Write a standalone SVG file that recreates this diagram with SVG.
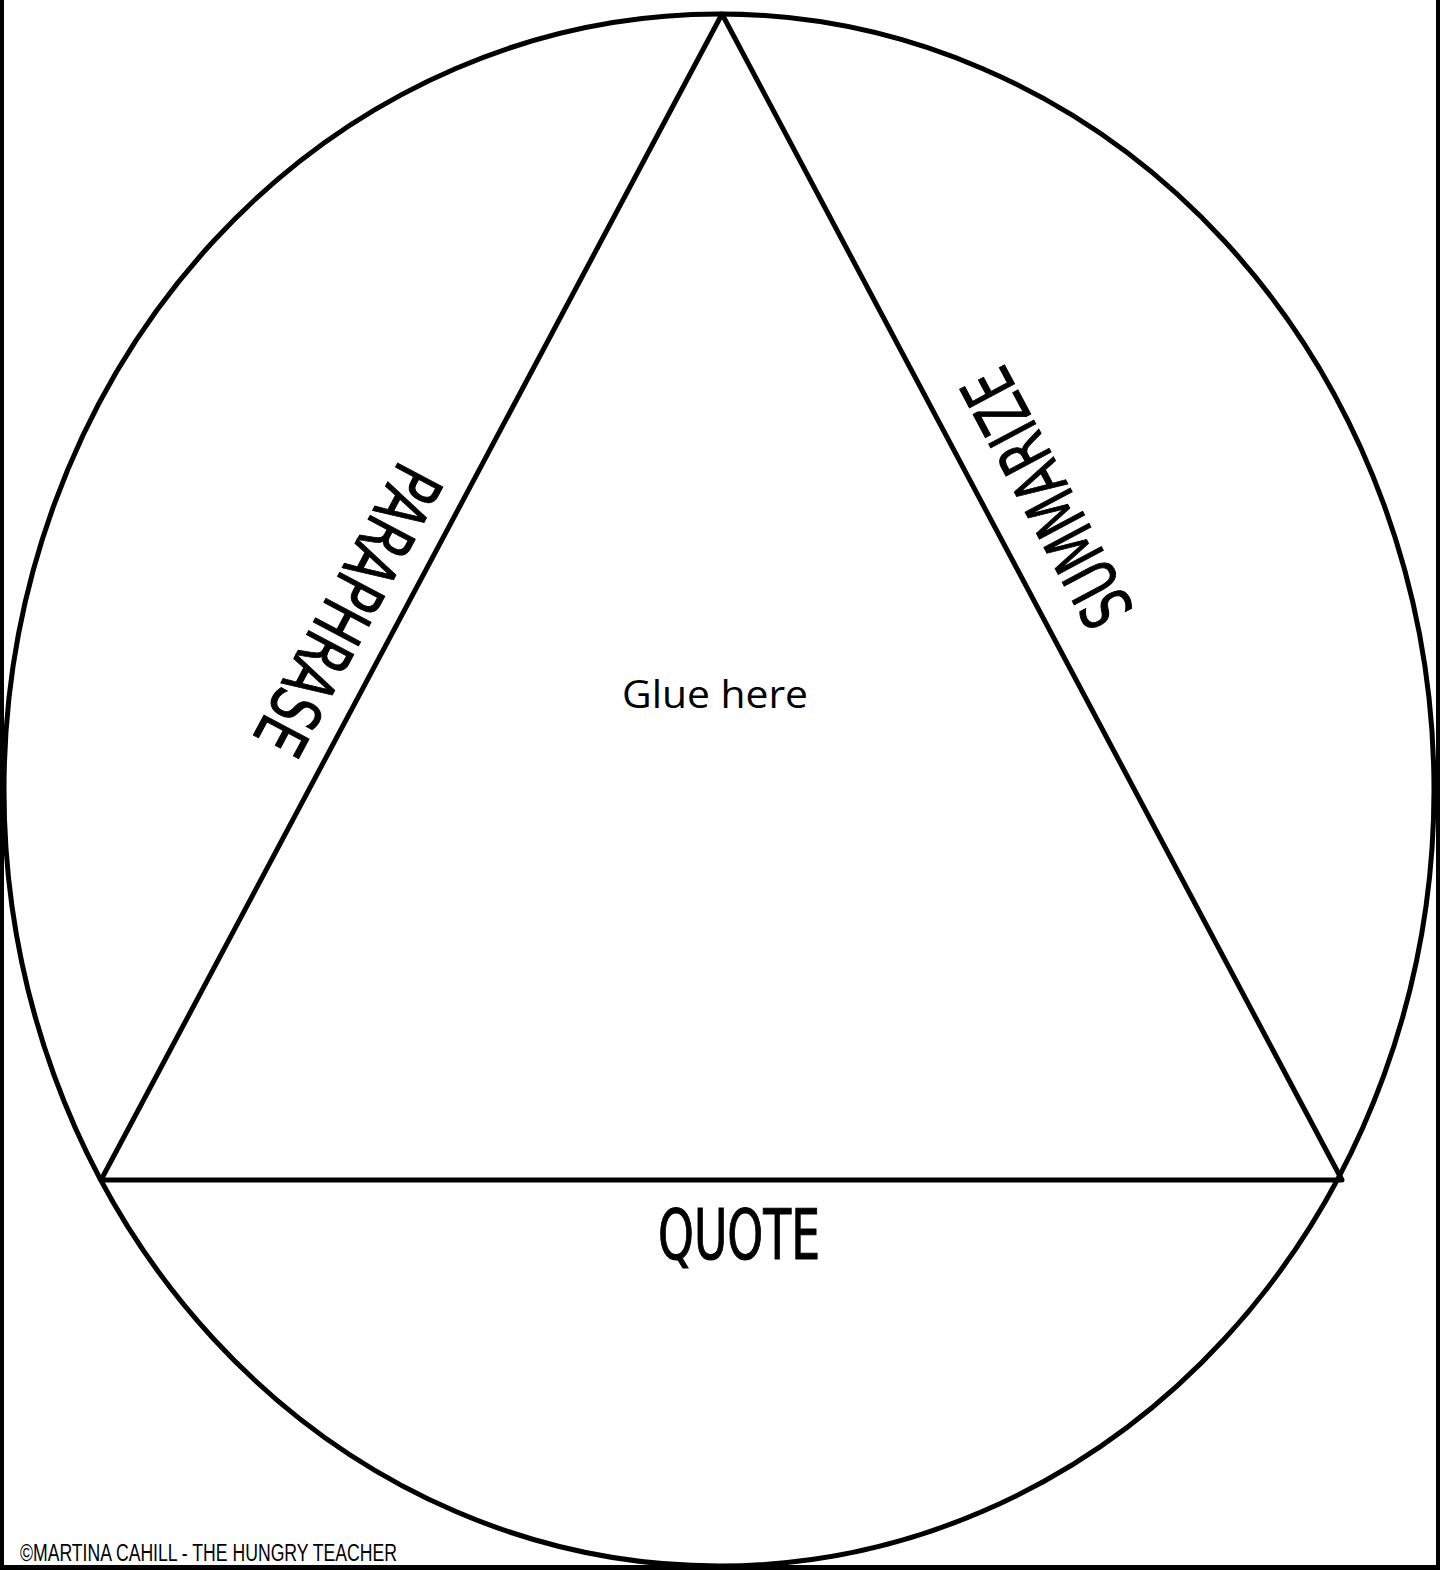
<svg xmlns="http://www.w3.org/2000/svg" width="1440" height="1570" viewBox="0 0 1440 1570">
<style>
.ln{fill:none;stroke:#000;stroke-width:5;stroke-linejoin:round}
.hand{font-family:"Liberation Sans Narrow","DejaVu Sans Condensed","Liberation Sans",sans-serif;font-size:70px;fill:#000;stroke:#000;stroke-width:1}
.glue{font-family:"Open Sans","Liberation Sans",sans-serif;font-size:38px;fill:#000}
.foot{font-family:"Liberation Sans Narrow","Liberation Sans",sans-serif;font-size:23px;fill:#000}
</style>
<rect width="1440" height="1570" fill="#fff"/>
<g id="border">
<rect x="0" y="0" width="4" height="1570" fill="#000"/>
<rect x="1436" y="0" width="4" height="1570" fill="#000"/>
<rect x="0" y="1565" width="1440" height="5" fill="#000"/>
</g>
<g id="circle"><ellipse class="ln" cx="719" cy="790" rx="715" ry="776"/></g>
<g id="triangle"><polygon class="ln" points="722,14 101,1180 1342,1180"/></g>
<g id="labels">
<g id="paraphrase" transform="translate(348,610) rotate(118)"><text class="hand" x="0" y="25" text-anchor="middle" textLength="316" lengthAdjust="spacingAndGlyphs">PARAPHRASE</text></g>
<g id="summarize" transform="translate(1047,498) rotate(-118)"><text class="hand" x="0" y="25" text-anchor="middle" textLength="281" lengthAdjust="spacingAndGlyphs">SUMMARIZE</text></g>
<g id="quote"><text class="hand" x="739" y="1259" text-anchor="middle" textLength="162" lengthAdjust="spacingAndGlyphs">QUOTE</text></g>
<g id="glue"><text class="glue" x="715" y="708" text-anchor="middle" textLength="186" lengthAdjust="spacingAndGlyphs">Glue here</text></g>
<g id="footer"><text class="foot" x="20" y="1561" textLength="377" lengthAdjust="spacingAndGlyphs">©MARTINA CAHILL - THE HUNGRY TEACHER</text></g>
</g>
</svg>
